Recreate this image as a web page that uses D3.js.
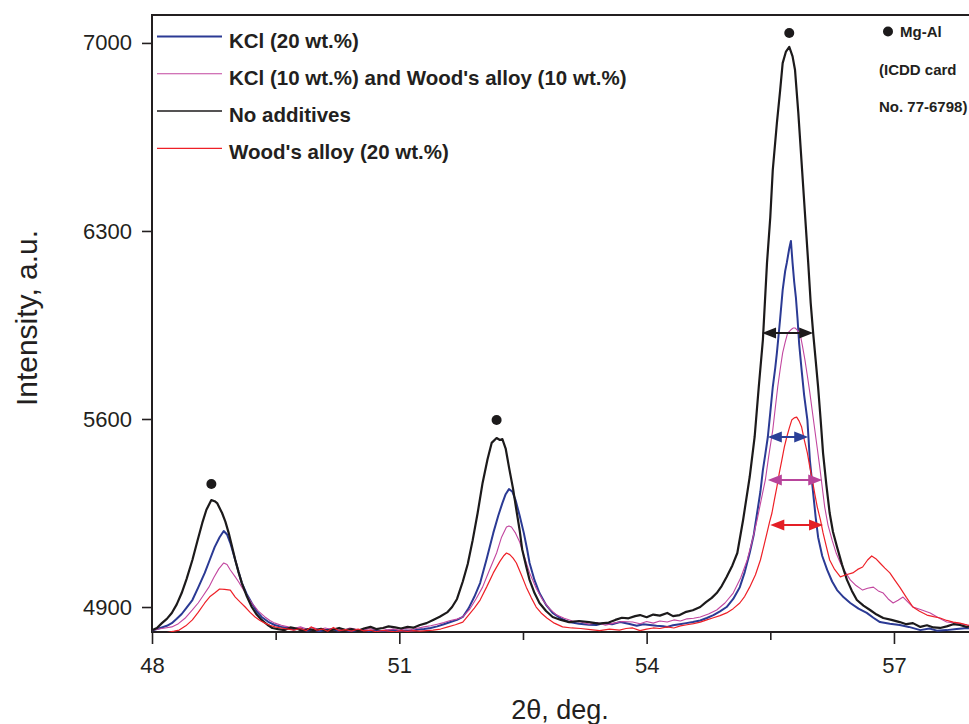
<!DOCTYPE html>
<html>
<head>
<meta charset="utf-8">
<script src="https://cdn.jsdelivr.net/npm/d3@7"></script>
<style>
  body { margin: 0; background: #fff; }
  svg { display: block; }
  text { font-family: "Liberation Sans", Arial, Helvetica, sans-serif; fill: #231f20; }
</style>
</head>
<body>
<svg id="chart" width="969" height="724"></svg>
<script>
// XRD patterns around the Mg-Al reflections, [2θ (deg), intensity (a.u.)]
const kcl20 = [[48.00,4812],[48.06,4818],[48.12,4824],[48.18,4830],[48.24,4840],[48.30,4856],[48.36,4874],[48.42,4898],[48.49,4926],[48.56,4972],[48.64,5027],[48.70,5075],[48.76,5123],[48.82,5160],[48.87,5183],[48.91,5170],[48.95,5138],[49.01,5075],[49.05,5030],[49.09,4989],[49.15,4948],[49.21,4915],[49.27,4884],[49.33,4863],[49.41,4845],[49.49,4833],[49.57,4826],[49.65,4822],[49.72,4816],[49.80,4820],[49.88,4812],[49.95,4816],[50.03,4810],[50.10,4814],[50.18,4818],[50.25,4812],[50.33,4815],[50.40,4810],[50.48,4813],[50.55,4816],[50.63,4811],[50.70,4814],[50.78,4810],[50.85,4812],[50.93,4815],[51.00,4810],[51.08,4813],[51.15,4811],[51.23,4816],[51.30,4818],[51.38,4822],[51.46,4828],[51.54,4836],[51.62,4844],[51.70,4852],[51.77,4863],[51.84,4895],[51.91,4938],[51.98,4989],[52.06,5080],[52.14,5176],[52.20,5240],[52.25,5287],[52.29,5320],[52.33,5339],[52.37,5330],[52.41,5298],[52.46,5240],[52.51,5176],[52.55,5115],[52.58,5064],[52.64,5000],[52.70,4952],[52.78,4908],[52.86,4878],[52.96,4858],[53.06,4844],[53.18,4838],[53.30,4834],[53.39,4833],[53.48,4840],[53.58,4836],[53.68,4844],[53.78,4838],[53.88,4830],[53.96,4836],[54.04,4833],[54.12,4830],[54.20,4828],[54.25,4826],[54.32,4832],[54.40,4836],[54.48,4840],[54.56,4844],[54.65,4850],[54.73,4859],[54.81,4870],[54.89,4884],[54.97,4900],[55.05,4930],[55.13,4974],[55.19,5030],[55.25,5101],[55.30,5170],[55.34,5250],[55.38,5330],[55.41,5410],[55.44,5470],[55.47,5533],[55.50,5625],[55.53,5719],[55.56,5790],[55.58,5846],[55.60,5910],[55.62,5975],[55.65,6080],[55.68,6150],[55.70,6181],[55.73,6235],[55.75,6263],[55.77,6181],[55.79,6110],[55.81,6054],[55.83,5975],[55.85,5880],[55.88,5782],[55.91,5690],[55.95,5596],[55.98,5447],[56.02,5324],[56.05,5235],[56.08,5160],[56.13,5090],[56.19,5038],[56.25,4995],[56.31,4963],[56.39,4936],[56.47,4915],[56.57,4894],[56.67,4878],[56.75,4860],[56.83,4844],[56.95,4838],[57.07,4833],[57.18,4826],[57.32,4814],[57.43,4820],[57.52,4812],[57.64,4814],[57.76,4818],[57.89,4822],[57.98,4818]];

const kcl10wood10 = [[48.00,4814],[48.08,4818],[48.16,4822],[48.24,4826],[48.32,4838],[48.40,4858],[48.49,4889],[48.56,4915],[48.62,4942],[48.69,4974],[48.75,5010],[48.81,5042],[48.87,5064],[48.91,5058],[48.95,5038],[49.01,5012],[49.05,4994],[49.09,4974],[49.15,4944],[49.21,4915],[49.29,4885],[49.37,4863],[49.43,4850],[49.49,4840],[49.57,4832],[49.65,4826],[49.72,4820],[49.80,4826],[49.88,4818],[49.95,4824],[50.03,4816],[50.10,4822],[50.18,4816],[50.25,4820],[50.33,4814],[50.40,4822],[50.48,4817],[50.55,4813],[50.63,4820],[50.70,4816],[50.78,4822],[50.85,4815],[50.93,4818],[51.00,4814],[51.08,4820],[51.15,4816],[51.23,4822],[51.30,4826],[51.38,4830],[51.46,4836],[51.54,4842],[51.62,4850],[51.70,4855],[51.77,4863],[51.85,4890],[51.93,4930],[52.01,4974],[52.09,5035],[52.18,5101],[52.24,5160],[52.30,5198],[52.33,5202],[52.36,5198],[52.41,5175],[52.46,5142],[52.52,5085],[52.58,5027],[52.66,4970],[52.74,4926],[52.82,4894],[52.91,4870],[53.00,4858],[53.10,4848],[53.20,4844],[53.30,4836],[53.40,4842],[53.50,4832],[53.60,4840],[53.70,4846],[53.83,4844],[53.92,4838],[54.00,4846],[54.08,4840],[54.16,4848],[54.25,4844],[54.33,4852],[54.41,4848],[54.49,4856],[54.57,4858],[54.65,4863],[54.75,4874],[54.85,4889],[54.95,4915],[55.05,4952],[55.14,5008],[55.22,5075],[55.28,5145],[55.34,5224],[55.39,5300],[55.44,5373],[55.48,5460],[55.53,5559],[55.56,5640],[55.59,5719],[55.62,5785],[55.65,5846],[55.68,5885],[55.71,5920],[55.75,5932],[55.78,5939],[55.80,5939],[55.83,5930],[55.86,5920],[55.89,5872],[55.92,5820],[55.95,5760],[55.98,5697],[56.01,5628],[56.04,5559],[56.07,5490],[56.10,5421],[56.13,5346],[56.16,5272],[56.20,5205],[56.25,5149],[56.30,5100],[56.35,5064],[56.41,5030],[56.47,5001],[56.54,4980],[56.62,4963],[56.68,4970],[56.75,4974],[56.81,4960],[56.87,4952],[56.93,4930],[56.99,4915],[57.05,4925],[57.11,4937],[57.17,4918],[57.23,4900],[57.33,4890],[57.44,4878],[57.54,4860],[57.64,4844],[57.76,4840],[57.89,4833],[57.98,4830]];

const noAdditives = [[48.00,4814],[48.06,4822],[48.12,4840],[48.18,4856],[48.24,4878],[48.30,4910],[48.36,4952],[48.42,5005],[48.49,5075],[48.55,5145],[48.61,5213],[48.66,5262],[48.72,5298],[48.76,5294],[48.79,5287],[48.85,5250],[48.89,5218],[48.93,5176],[48.97,5126],[49.01,5075],[49.05,5030],[49.09,4989],[49.15,4940],[49.21,4900],[49.27,4872],[49.33,4852],[49.40,4834],[49.46,4822],[49.53,4818],[49.61,4814],[49.68,4824],[49.75,4820],[49.82,4812],[49.90,4818],[49.97,4813],[50.05,4819],[50.12,4811],[50.20,4816],[50.27,4822],[50.35,4814],[50.42,4818],[50.50,4811],[50.57,4820],[50.65,4826],[50.72,4818],[50.80,4822],[50.87,4828],[50.95,4824],[51.02,4820],[51.10,4826],[51.17,4823],[51.25,4833],[51.33,4840],[51.41,4852],[51.49,4864],[51.58,4880],[51.64,4900],[51.70,4930],[51.77,4995],[51.83,5060],[51.89,5149],[51.95,5250],[52.01,5362],[52.07,5450],[52.12,5511],[52.18,5529],[52.22,5522],[52.25,5525],[52.29,5490],[52.33,5421],[52.38,5340],[52.42,5261],[52.46,5185],[52.49,5115],[52.54,5050],[52.58,5001],[52.64,4952],[52.70,4915],[52.78,4885],[52.86,4863],[52.96,4852],[53.06,4844],[53.18,4848],[53.30,4844],[53.42,4838],[53.54,4842],[53.62,4852],[53.70,4860],[53.78,4858],[53.86,4866],[53.92,4870],[54.00,4862],[54.08,4872],[54.16,4868],[54.25,4878],[54.32,4866],[54.40,4870],[54.48,4882],[54.56,4888],[54.65,4900],[54.72,4918],[54.79,4934],[54.85,4952],[54.91,4978],[54.97,5012],[55.04,5055],[55.10,5101],[55.17,5224],[55.25,5384],[55.31,5533],[55.36,5719],[55.41,5894],[55.46,6181],[55.50,6352],[55.53,6527],[55.58,6702],[55.62,6825],[55.65,6925],[55.69,6968],[55.73,6985],[55.77,6950],[55.80,6899],[55.84,6739],[55.88,6553],[55.92,6367],[55.96,6181],[55.99,6032],[56.02,5920],[56.05,5820],[56.08,5719],[56.11,5600],[56.14,5473],[56.18,5355],[56.22,5250],[56.26,5180],[56.31,5123],[56.37,5058],[56.43,5001],[56.49,4960],[56.55,4926],[56.63,4905],[56.71,4889],[56.79,4872],[56.87,4859],[56.97,4852],[57.07,4844],[57.15,4836],[57.23,4840],[57.32,4826],[57.40,4832],[57.48,4824],[57.56,4822],[57.64,4828],[57.72,4836],[57.80,4833],[57.88,4826],[57.96,4830]];

const wood20 = [[48.00,4796],[48.10,4800],[48.20,4806],[48.27,4810],[48.33,4814],[48.41,4830],[48.49,4852],[48.56,4880],[48.64,4915],[48.70,4938],[48.76,4952],[48.82,4967],[48.88,4966],[48.95,4963],[49.01,4937],[49.07,4918],[49.13,4900],[49.19,4880],[49.25,4863],[49.31,4850],[49.37,4840],[49.43,4832],[49.49,4826],[49.57,4822],[49.65,4818],[49.72,4814],[49.80,4820],[49.87,4812],[49.93,4826],[50.00,4814],[50.07,4818],[50.13,4810],[50.20,4824],[50.27,4812],[50.35,4816],[50.42,4810],[50.50,4818],[50.57,4811],[50.65,4814],[50.72,4808],[50.80,4813],[50.87,4810],[50.95,4808],[51.02,4812],[51.10,4809],[51.17,4812],[51.25,4810],[51.33,4812],[51.41,4814],[51.50,4818],[51.59,4826],[51.68,4834],[51.77,4844],[51.84,4870],[51.91,4896],[51.98,4926],[52.06,4975],[52.14,5027],[52.22,5070],[52.27,5092],[52.30,5101],[52.34,5095],[52.38,5082],[52.42,5064],[52.48,5020],[52.54,4974],[52.60,4935],[52.66,4900],[52.72,4878],[52.79,4859],[52.88,4840],[52.98,4826],[53.09,4822],[53.20,4820],[53.32,4816],[53.43,4812],[53.55,4818],[53.67,4814],[53.75,4820],[53.83,4822],[53.92,4812],[54.00,4818],[54.08,4822],[54.16,4820],[54.25,4826],[54.33,4822],[54.41,4830],[54.49,4834],[54.57,4838],[54.65,4844],[54.73,4852],[54.81,4860],[54.89,4868],[54.97,4878],[55.05,4894],[55.13,4915],[55.19,4940],[55.25,4974],[55.32,5020],[55.38,5075],[55.42,5125],[55.46,5176],[55.49,5215],[55.52,5250],[55.55,5300],[55.58,5347],[55.61,5400],[55.64,5447],[55.67,5495],[55.70,5533],[55.73,5566],[55.76,5596],[55.79,5604],[55.82,5607],[55.85,5592],[55.88,5570],[55.91,5525],[55.95,5473],[55.98,5420],[56.01,5373],[56.04,5320],[56.07,5272],[56.11,5222],[56.14,5176],[56.18,5125],[56.22,5075],[56.28,5040],[56.35,5012],[56.42,5020],[56.50,5027],[56.56,5040],[56.62,5049],[56.68,5075],[56.73,5090],[56.78,5080],[56.83,5064],[56.89,5045],[56.95,5027],[57.01,5000],[57.07,4974],[57.15,4936],[57.23,4900],[57.31,4884],[57.40,4870],[57.48,4864],[57.56,4859],[57.64,4850],[57.72,4844],[57.80,4840],[57.89,4833],[57.98,4828]];

// series order, labels and colours (legend order)
const seriesNames = ["KCl (20 wt.%)", "KCl (10 wt.%) and Wood's alloy (10 wt.%)", "No additives", "Wood's alloy (20 wt.%)"];
const seriesData = [kcl20, kcl10wood10, noAdditives, wood20];
const seriesColors = ["#2b3a94", "#c2469f", "#1c1a1b", "#ee2027"];
const seriesWidths = [2, 1.1, 2.2, 1.2];
const legendWidths = [1.8, 1.1, 1.5, 1.3];

// Mg-Al reflection markers
const markerTheta = [48.72, 52.18, 55.73];
const markerIntensity = [5358, 5596, 7037];

// full width at half maximum of the main reflection
const fwhmLevel = [5920, 5533, 5373, 5205];
const fwhmFrom = [55.40, 55.47, 55.47, 55.50];
const fwhmTo = [56.02, 55.96, 56.13, 56.14];
const fwhmColors = ["#1c1a1b", "#2b3f98", "#b8449b", "#e41f26"];

// axis ticks
const xMajorTicks = [48, 51, 54, 57];
const xMinorTicks = [49.5, 52.5, 55.5];
const yTicks = [4900, 5600, 6300, 7000];

const svg = d3.select("#chart");
const plotLeft = 152, plotTop = 15, plotBottom = 632, plotRight = 969;

const x = d3.scaleLinear().domain([48, 58]).range([plotLeft, plotLeft + 824.4]);
const y = d3.scaleLinear().domain([4807, 7104]).range([plotBottom, plotTop]);

svg.append("defs").append("clipPath").attr("id", "plot-clip")
  .append("rect").attr("x", plotLeft).attr("y", plotTop)
  .attr("width", plotRight - plotLeft).attr("height", plotBottom - plotTop);

// axes
const xAxis = svg.append("g").attr("transform", `translate(0,${plotBottom})`)
  .call(d3.axisBottom(x).tickValues(xMajorTicks).tickSize(12).tickPadding(13).tickFormat(d3.format("d")));
const xMinor = svg.append("g").attr("transform", `translate(0,${plotBottom})`)
  .call(d3.axisBottom(x).tickValues(xMinorTicks).tickSize(8).tickFormat(""));
const yAxis = svg.append("g").attr("transform", `translate(${plotLeft},0)`)
  .call(d3.axisLeft(y).tickValues(yTicks).tickSize(10).tickPadding(10).tickFormat(d3.format("d")));

[xAxis, xMinor, yAxis].forEach(g => {
  g.select(".domain").remove();
  g.selectAll("line").attr("stroke", "#231f20").attr("stroke-width", 1.6);
  g.selectAll("text").style("font-size", "22px").attr("fill", "#231f20");
});

// frame
const frame = svg.append("g").attr("stroke", "#231f20").attr("stroke-width", 2).attr("fill", "none");
frame.append("line").attr("x1", plotLeft).attr("x2", plotLeft).attr("y1", plotTop - 1).attr("y2", plotBottom + 1);
frame.append("line").attr("x1", plotLeft - 1).attr("x2", plotRight).attr("y1", plotTop).attr("y2", plotTop);
frame.append("line").attr("x1", plotLeft - 1).attr("x2", plotRight).attr("y1", plotBottom).attr("y2", plotBottom);

// curves
const line = d3.line().x(d => x(d[0])).y(d => y(d[1]));
const curves = svg.append("g").attr("clip-path", "url(#plot-clip)");
seriesData.forEach((data, i) => {
  curves.append("path").datum(data)
    .attr("d", line)
    .attr("fill", "none")
    .attr("stroke", seriesColors[i])
    .attr("stroke-width", seriesWidths[i])
    .attr("stroke-linejoin", "round");
});

// reflection markers
svg.append("g").selectAll("circle").data(markerTheta).join("circle")
  .attr("cx", d => x(d))
  .attr("cy", (d, i) => y(markerIntensity[i]))
  .attr("r", 5)
  .attr("fill", "#1c1a1b");

// FWHM double arrows
const arrows = svg.append("g");
fwhmLevel.forEach((lv, i) => {
  const x1 = x(fwhmFrom[i]), x2 = x(fwhmTo[i]), yy = y(lv);
  const hl = 14, hw = 5.5;
  arrows.append("line").attr("x1", x1 + 4).attr("x2", x2 - 4).attr("y1", yy).attr("y2", yy)
    .attr("stroke", fwhmColors[i]).attr("stroke-width", 2);
  arrows.append("path")
    .attr("d", `M${x1},${yy}L${x1 + hl},${yy - hw}L${x1 + hl},${yy + hw}Z M${x2},${yy}L${x2 - hl},${yy - hw}L${x2 - hl},${yy + hw}Z`)
    .attr("fill", fwhmColors[i]);
});

// legend
const legend = svg.append("g");
seriesNames.forEach((name, i) => {
  const ly = 36.5 + i * 37.3;
  legend.append("line").attr("x1", 157).attr("x2", 222).attr("y1", ly).attr("y2", ly)
    .attr("stroke", seriesColors[i]).attr("stroke-width", legendWidths[i]);
  legend.append("text").attr("x", 229).attr("y", ly + 11)
    .style("font-size", "20.5px").style("font-weight", "bold").text(name);
});

// reference card note
const note = svg.append("g").style("font-size", "15px").style("font-weight", "bold");
note.append("circle").attr("cx", 888).attr("cy", 31.5).attr("r", 5).attr("fill", "#1c1a1b");
note.append("text").attr("x", 900).attr("y", 37).text("Mg-Al");
note.append("text").attr("x", 879).attr("y", 75).text("(ICDD card");
note.append("text").attr("x", 879).attr("y", 112).text("No. 77-6798)");

// axis titles
svg.append("text")
  .attr("transform", "translate(37,318) rotate(-90)")
  .attr("text-anchor", "middle")
  .style("font-size", "30px")
  .text("Intensity, a.u.");
svg.append("text")
  .attr("x", 560).attr("y", 719)
  .attr("text-anchor", "middle")
  .style("font-size", "27px")
  .text("2θ, deg.");
</script>
</body>
</html>
